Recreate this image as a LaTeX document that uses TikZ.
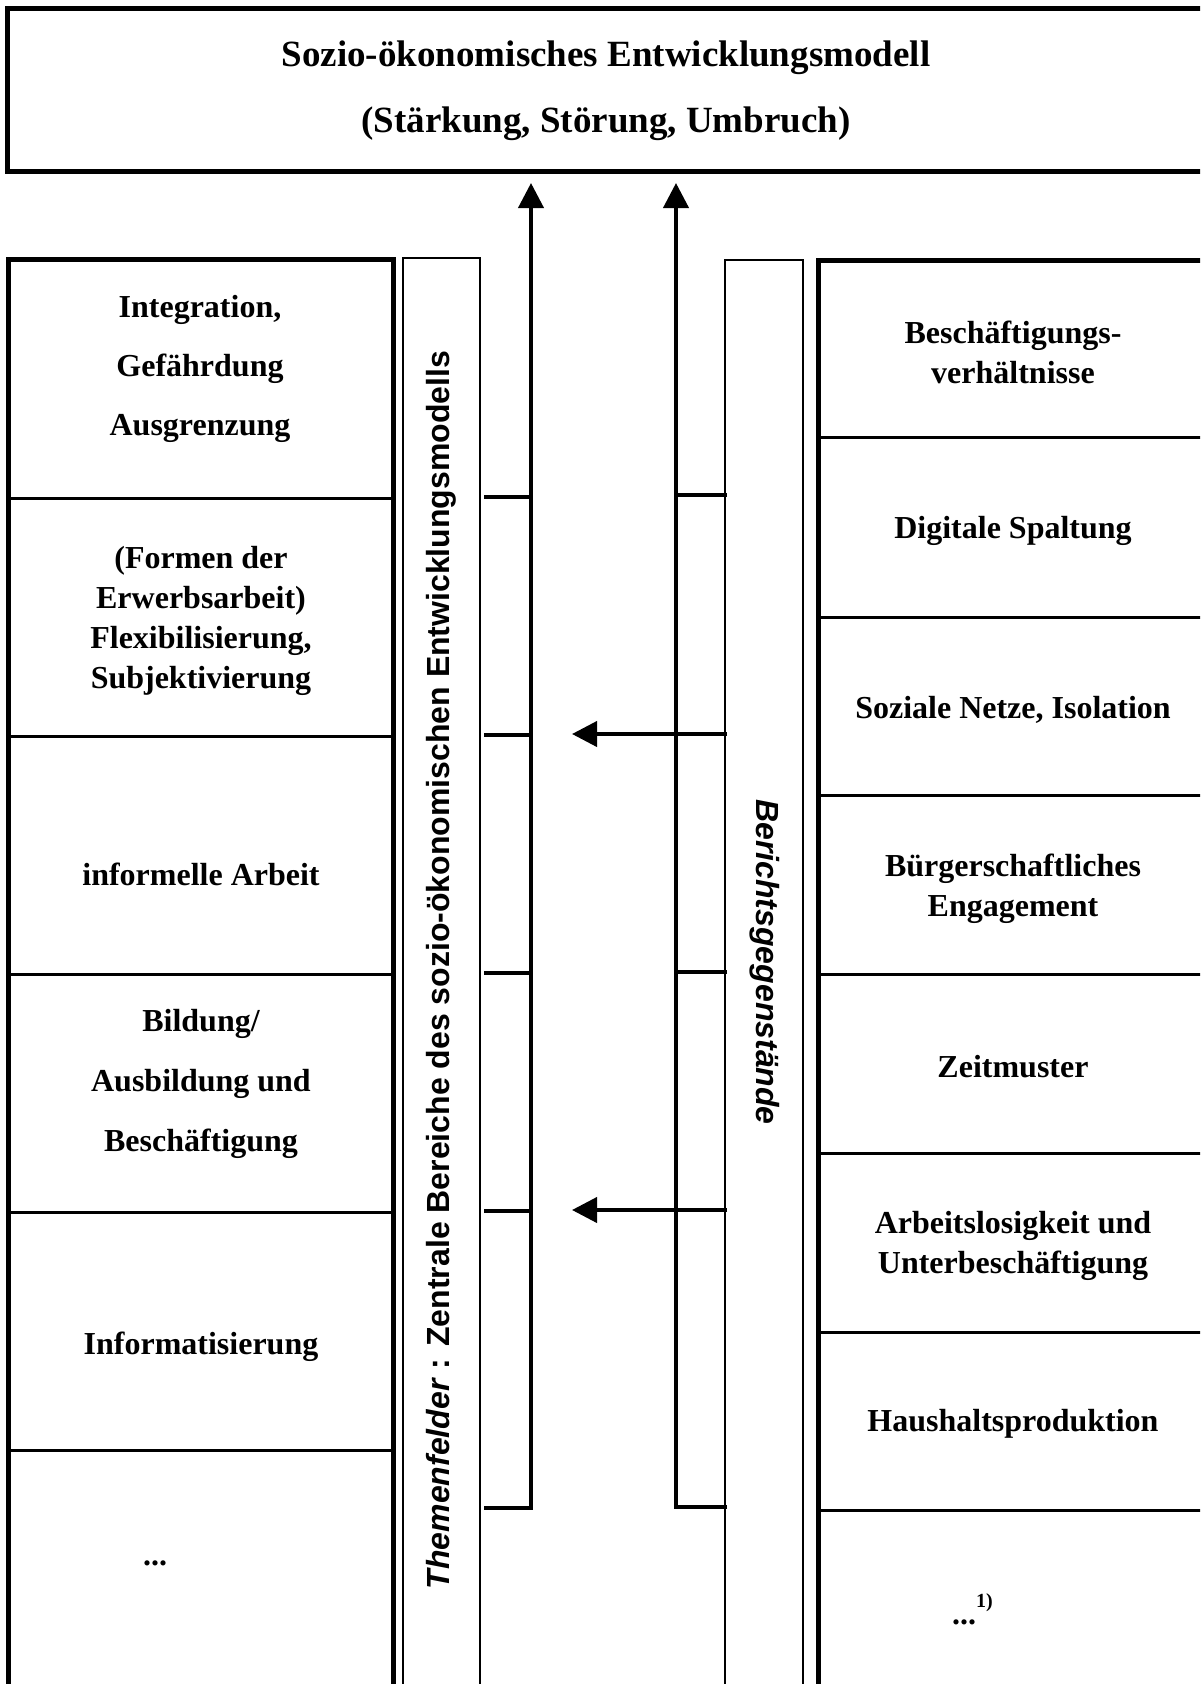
\documentclass[tikz,border=0pt]{standalone}
\usepackage{fontspec}
\setmainfont{Liberation Serif}
\setsansfont{Liberation Sans}
\usetikzlibrary{arrows.meta}
\tikzset{
  frame/.style={line width=5pt},
  sepline/.style={line width=3pt},
  thinbox/.style={line width=1.4pt},
  flow/.style={line width=4pt},
  flowarrow/.style={line width=4pt,-{Triangle[length=25pt,width=25pt]}},
  titletext/.style={font=\bfseries\fontsize{37}{44}\selectfont,inner sep=0pt,align=center},
  bodytext/.style={font=\bfseries\fontsize{32}{40}\selectfont,inner sep=0pt,align=center},
  widetext/.style={font=\bfseries\fontsize{32}{59}\selectfont,inner sep=0pt,align=center},
  sidetext/.style={font=\sffamily\bfseries\fontsize{32}{38}\selectfont,inner sep=0pt}
}
\begin{document}
\begin{tikzpicture}[x=1pt,y=-1pt]
\useasboundingbox (0,0) rectangle (1200,1684);
\clip (0,0) rectangle (1200,1684);

% top box
\draw[frame] (7,8) rectangle (1215,171);
\node[titletext] (title1) at (606,58) {Sozio-ökonomisches Entwicklungsmodell};
\node[titletext] (title2) at (606,124) {(Stärkung, Störung, Umbruch)};

% left column
\draw[frame] (8,259) rectangle (393,1720);
\foreach \y in {498,736,974,1212,1450} \draw[sepline] (8,\y) -- (393,\y);
\draw[thinbox] (403,258) rectangle (480,1720);

% right column
\draw[thinbox] (725,260) rectangle (803,1720);
\draw[frame] (818,260) rectangle (1215,1720);
\foreach \y in {437,617,795,974,1153,1332,1510} \draw[sepline] (818,\y) -- (1215,\y);

% left texts
\node[widetext] (l1) at (200,369) {Integration,\\Gefährdung\\Ausgrenzung};
\node[bodytext] (l2) at (201,621) {(Formen der\\Erwerbsarbeit)\\Flexibilisierung,\\Subjektivierung};
\node[bodytext] (l3) at (201,874) {informelle Arbeit};
\node[font=\bfseries\fontsize{32}{59.6}\selectfont,inner sep=0pt,align=center] (l4) at (201,1084) {Bildung/\\Ausbildung und\\Beschäftigung};
\node[bodytext] (l5) at (201,1347) {Informatisierung};
\node[bodytext] (l6) at (155,1563) {...};

% right texts
\node[bodytext] (r1) at (1013,352) {Beschäftigungs-\\verhältnisse};
\node[bodytext] (r2) at (1013,531) {Digitale Spaltung};
\node[bodytext] (r3) at (1013,710) {Soziale Netze, Isolation};
\node[bodytext] (r4) at (1013,889) {Bürgerschaftliches\\Engagement};
\node[bodytext] (r5) at (1013,1067) {Zeitmuster};
\node[bodytext] (r6) at (1013,1246) {Arbeitslosigkeit und\\Unterbeschäftigung};
\node[bodytext] (r7) at (1013,1424) {Haushaltsproduktion};
\node[bodytext,anchor=base west] (r8) at (952,1624) {...\raisebox{17pt}{\fontsize{20}{20}\selectfont 1)}};

% rotated labels
\node[sidetext,rotate=90] (themen) at (441,970) {\textit{Themenfelder} : Zentrale Bereiche des sozio-ökonomischen Entwicklungsmodells};
\node[sidetext,rotate=-90] (bericht) at (765,962) {\textit{Berichtsgegenstände}};

% left collector line
\coordinate (LA) at (531,183);
\coordinate (LB) at (531,1508);
\coordinate (LC) at (484,1508);
\draw[flowarrow] (LC) -- (LB) -- (LA);
\foreach \i/\y in {1/497,2/735,3/973,4/1211} {
  \coordinate (lt\i a) at (484,\y);
  \coordinate (lt\i b) at (531,\y);
  \draw[flow] (lt\i a) -- (lt\i b);
}

% right collector line
\coordinate (RA) at (676,183);
\coordinate (RB) at (676,1507);
\coordinate (RC) at (727,1507);
\draw[flowarrow] (RC) -- (RB) -- (RA);
\foreach \i/\y in {1/495,2/972} {
  \coordinate (rt\i a) at (727,\y);
  \coordinate (rt\i b) at (676,\y);
  \draw[flow] (rt\i a) -- (rt\i b);
}

% horizontal arrows
\coordinate (HA1) at (727,734);
\coordinate (HB1) at (572,734);
\coordinate (HA2) at (727,1210);
\coordinate (HB2) at (572,1210);
\draw[flowarrow] (HA1) -- (HB1);
\draw[flowarrow] (HA2) -- (HB2);
\end{tikzpicture}
\end{document}
